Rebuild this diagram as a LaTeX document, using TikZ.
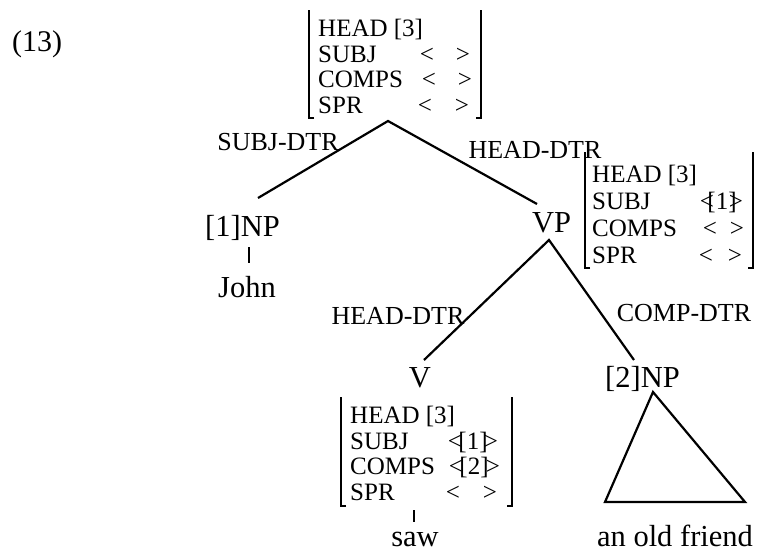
\documentclass[tikz,border=0pt]{standalone}
\usepackage{fontspec}
\setmainfont{Liberation Serif}
\begin{document}
\begin{tikzpicture}[x=1pt,y=-1pt,
  feat/.style={font=\fontsize{25}{25}\selectfont, inner sep=0pt, anchor=base west},
  val/.style={font=\fontsize{25}{25}\selectfont, inner sep=0pt, anchor=base},
  cat/.style={font=\fontsize{30.5}{30}\selectfont, inner sep=0pt, anchor=base},
  lab/.style={font=\fontsize{26}{26}\selectfont, inner sep=0pt, anchor=base},
  branch/.style={line width=2.2pt},
  brk/.style={line width=1.3pt},
]
\useasboundingbox (0,0) rectangle (768,552);

% example number
\node[cat, anchor=base west, font=\fontsize{30}{30}\selectfont] (num) at (12,51) {(13)};

% ---------- top AVM ----------
\draw[brk] (314,118) -- (309,118) -- (309,10);
\draw[brk] (476,118) -- (481,118) -- (481,10);
\node[feat] (t-head)  at (318,36.5) {HEAD [3]};
\node[feat] (t-subj)  at (318,62)   {SUBJ};
\node[feat] (t-comps) at (318,87.5) {COMPS};
\node[feat] (t-spr)   at (318,113)  {SPR};
\node[val] (t-subj-l)  at (427,62)   {<};
\node[val] (t-subj-r)  at (463,62)   {>};
\node[val] (t-comps-l) at (429,87.5) {<};
\node[val] (t-comps-r) at (465,87.5) {>};
\node[val] (t-spr-l)   at (425,113)  {<};
\node[val] (t-spr-r)   at (462,113)  {>};

% ---------- daughters of S ----------
\coordinate (s-b) at (388,121);
\coordinate (np1-t) at (258,198);
\coordinate (vp-t) at (537,204);
\draw[branch] (np1-t) -- (s-b) -- (vp-t);
\node[lab] (l-subj) at (278,150) {SUBJ-DTR};
\node[lab] (l-head1) at (535,158) {HEAD-DTR};

\node[cat] (np1) at (242.5,236) {[1]NP};
\node[cat] (john) at (247,297) {John};
\coordinate (np1-b) at (249,247);
\coordinate (john-t) at (249,263);
\draw[branch] (np1-b) -- (john-t);

\node[cat] (vp) at (551.5,232) {VP};

% ---------- VP AVM ----------
\draw[brk] (590,268) -- (585,268) -- (585,152);
\draw[brk] (748,268) -- (753,268) -- (753,152);
\node[feat] (vp-head)  at (592,182) {HEAD [3]};
\node[feat] (vp-subj)  at (592,209) {SUBJ};
\node[feat] (vp-comps) at (592,236) {COMPS};
\node[feat] (vp-spr)   at (592,263) {SPR};
\node[val] (vp-subj-l)  at (707,209) {<};
\node[val] (vp-subj-i)  at (722,209) {[1]};
\node[val] (vp-subj-r)  at (736,209) {>};
\node[val] (vp-comps-l) at (710,236) {<};
\node[val] (vp-comps-r) at (737,236) {>};
\node[val] (vp-spr-l)   at (706,263) {<};
\node[val] (vp-spr-r)   at (735,263) {>};

% ---------- daughters of VP ----------
\coordinate (vp-b) at (549,240);
\coordinate (v-t) at (424,360);
\coordinate (np2-t) at (634,360);
\draw[branch] (v-t) -- (vp-b) -- (np2-t);
\node[lab] (l-head2) at (398,324) {HEAD-DTR};
\node[lab] (l-comp) at (684,321) {COMP-DTR};

\node[cat] (v) at (420,387) {V};
\node[cat] (np2) at (642.5,387) {[2]NP};

% ---------- V AVM ----------
\draw[brk] (346,506) -- (341,506) -- (341,397);
\draw[brk] (507,506) -- (512,506) -- (512,397);
\node[feat] (v-head)  at (350,423)   {HEAD [3]};
\node[feat] (v-subj)  at (350,449.5) {SUBJ};
\node[feat] (v-comps) at (350,474.5) {COMPS};
\node[feat] (v-spr)   at (350,500.5) {SPR};
\node[val] (v-subj-l)  at (455,449.5) {<};
\node[val] (v-subj-i)  at (473,449.5) {[1]};
\node[val] (v-subj-r)  at (491,449.5) {>};
\node[val] (v-comps-l) at (456,474.5) {<};
\node[val] (v-comps-i) at (474,474.5) {[2]};
\node[val] (v-comps-r) at (493,474.5) {>};
\node[val] (v-spr-l)   at (453,500.5) {<};
\node[val] (v-spr-r)   at (490,500.5) {>};

\coordinate (vavm-b) at (414,510);
\coordinate (saw-t) at (414,522);
\draw[branch] (vavm-b) -- (saw-t);
\node[cat] (saw) at (415,546.5) {saw};

% ---------- triangle ----------
\coordinate (tri-a) at (653,392);
\coordinate (tri-l) at (605,502);
\coordinate (tri-r) at (745,502);
\draw[branch, line join=miter] (tri-a) -- (tri-r) -- (tri-l) -- cycle;
\node[cat] (friend) at (675,546.5) {an old friend};
\end{tikzpicture}
\end{document}
